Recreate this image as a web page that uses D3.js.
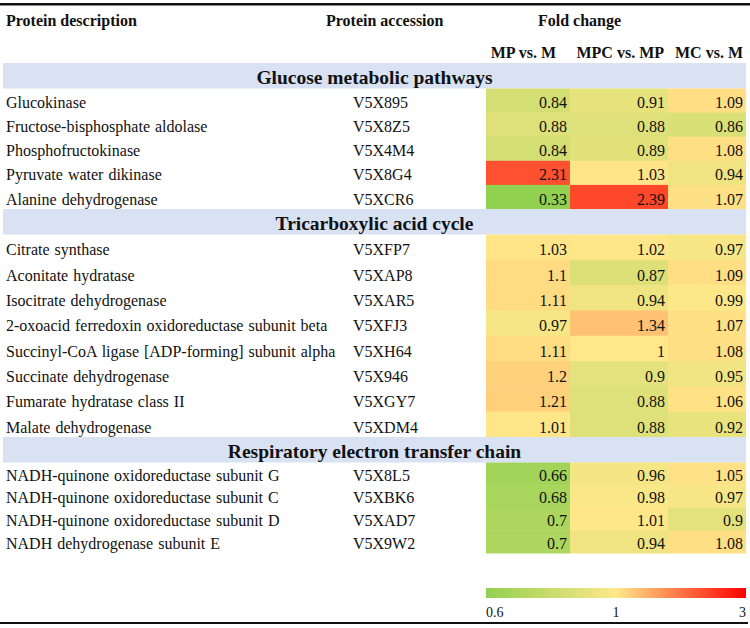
<!DOCTYPE html>
<html>
<head>
<meta charset="utf-8">
<script src="https://cdn.jsdelivr.net/npm/d3@7"></script>
<style>
  html, body { margin: 0; padding: 0; background: #fff; }
  svg { display: block; font-family: "Liberation Serif", "Times New Roman", serif; }
</style>
</head>
<body>
<svg id="chart" width="750" height="628"></svg>
<script>
// ---------------- data ----------------
const comparisons = ["MP vs. M", "MPC vs. MP", "MC vs. M"];
const sections = ["Glucose metabolic pathways", "Tricarboxylic acid cycle", "Respiratory electron transfer chain"];

const glucoseDesc = ["Glucokinase", "Fructose-bisphosphate aldolase", "Phosphofructokinase", "Pyruvate water dikinase", "Alanine dehydrogenase"];
const glucoseAcc = ["V5X895", "V5X8Z5", "V5X4M4", "V5X8G4", "V5XCR6"];
const glucoseMPvsM = ["0.84", "0.88", "0.84", "2.31", "0.33"];
const glucoseMPCvsMP = ["0.91", "0.88", "0.89", "1.03", "2.39"];
const glucoseMCvsM = ["1.09", "0.86", "1.08", "0.94", "1.07"];

const tcaDesc = ["Citrate synthase", "Aconitate hydratase", "Isocitrate dehydrogenase", "2-oxoacid ferredoxin oxidoreductase subunit beta", "Succinyl-CoA ligase [ADP-forming] subunit alpha", "Succinate dehydrogenase", "Fumarate hydratase class II", "Malate dehydrogenase"];
const tcaAcc = ["V5XFP7", "V5XAP8", "V5XAR5", "V5XFJ3", "V5XH64", "V5X946", "V5XGY7", "V5XDM4"];
const tcaMPvsM = ["1.03", "1.1", "1.11", "0.97", "1.11", "1.2", "1.21", "1.01"];
const tcaMPCvsMP = ["1.02", "0.87", "0.94", "1.34", "1", "0.9", "0.88", "0.88"];
const tcaMCvsM = ["0.97", "1.09", "0.99", "1.07", "1.08", "0.95", "1.06", "0.92"];

const respDesc = ["NADH-quinone oxidoreductase subunit G", "NADH-quinone oxidoreductase subunit C", "NADH-quinone oxidoreductase subunit D", "NADH dehydrogenase subunit E"];
const respAcc = ["V5X8L5", "V5XBK6", "V5XAD7", "V5X9W2"];
const respMPvsM = ["0.66", "0.68", "0.7", "0.7"];
const respMPCvsMP = ["0.96", "0.98", "1.01", "0.94"];
const respMCvsM = ["1.05", "0.97", "0.9", "1.08"];

const legendTicks = ["0.6", "1", "3"];

// ---------------- layout (not data) ----------------
const W = 750, H = 628;
const sectionTops = [63, 209, 437];
const groupEnds = [209, 437, 553];
const bandH = 25.5;
const colLefts = [486, 570, 668, 746];
const headerY = 26, subHeaderY = 58;
const legendY = 588, legendH = 10;
const accX = 353;

const groups = [
  { title: sections[0], desc: glucoseDesc, acc: glucoseAcc, vals: [glucoseMPvsM, glucoseMPCvsMP, glucoseMCvsM] },
  { title: sections[1], desc: tcaDesc, acc: tcaAcc, vals: [tcaMPvsM, tcaMPCvsMP, tcaMCvsM] },
  { title: sections[2], desc: respDesc, acc: respAcc, vals: [respMPvsM, respMPCvsMP, respMCvsM] }
];

const color = d3.scaleLinear()
  .domain(legendTicks.map(Number))
  .range(["#92d050", "#ffe88a", "#ff0000"])
  .interpolate(d3.interpolateRgb)
  .clamp(true);

const xLeft = d3.scaleOrdinal().domain(comparisons).range(colLefts.slice(0, 3));
const xRight = d3.scaleOrdinal().domain(comparisons).range(colLefts.slice(1, 4));

const svg = d3.select("#chart");
svg.append("rect").attr("width", W).attr("height", H).attr("fill", "#fff");

// top rule
svg.append("line").attr("x1", 0).attr("x2", W).attr("y1", 4.3).attr("y2", 4.3)
  .attr("stroke", "#111").attr("stroke-width", 2.6);

// headers
const hdr = svg.append("g").attr("font-weight", "bold").attr("font-size", 16).attr("fill", "#111");
hdr.append("text").attr("x", 6).attr("y", headerY).text("Protein description");
hdr.append("text").attr("x", 326).attr("y", headerY).text("Protein accession");
hdr.append("text").attr("x", 538).attr("y", headerY).text("Fold change");
const subOffsets = [14, 4, 3];
hdr.selectAll("text.sub").data(comparisons).join("text").attr("class", "sub")
  .attr("x", (d, i) => xRight(d) - subOffsets[i])
  .attr("y", subHeaderY)
  .attr("text-anchor", "end")
  .text(d => d);

// groups
groups.forEach((g, gi) => {
  const top = sectionTops[gi];
  const gg = svg.append("g");
  gg.append("rect").attr("x", 3).attr("y", top).attr("width", 743).attr("height", bandH)
    .attr("fill", "#d9e2f3");
  gg.append("text").attr("x", 374.5).attr("y", top + bandH - 5)
    .attr("text-anchor", "middle").attr("font-weight", "bold").attr("font-size", 19.5)
    .attr("fill", "#111").text(g.title);

  const y = d3.scaleBand().domain(g.desc).range([top + bandH, groupEnds[gi]]).padding(0);

  const rows = g.desc.map((d, i) => ({ desc: d, acc: g.acc[i], vals: comparisons.map((c, ci) => ({ comp: c, v: g.vals[ci][i] })) }));

  const row = gg.selectAll("g.row").data(rows).join("g").attr("class", "row");

  row.selectAll("rect.cell").data(r => r.vals.map(v => ({ ...v, desc: r.desc }))).join("rect")
    .attr("class", "cell")
    .attr("x", d => xLeft(d.comp))
    .attr("y", d => y(d.desc))
    .attr("width", d => xRight(d.comp) - xLeft(d.comp))
    .attr("height", y.bandwidth() + 0.5)
    .attr("fill", d => color(+d.v));

  row.selectAll("text.val").data(r => r.vals.map(v => ({ ...v, desc: r.desc }))).join("text")
    .attr("class", "val")
    .attr("x", d => xRight(d.comp) - 3)
    .attr("y", d => y(d.desc) + y.bandwidth() - 4.5)
    .attr("text-anchor", "end").attr("font-size", 16).attr("fill", "#111")
    .text(d => d.v);

  row.append("text")
    .attr("x", 6).attr("y", r => y(r.desc) + y.bandwidth() - 4.5)
    .attr("font-size", 16).attr("fill", "#111").attr("word-spacing", 1)
    .text(r => r.desc);
  row.append("text")
    .attr("x", accX).attr("y", r => y(r.desc) + y.bandwidth() - 4.5)
    .attr("font-size", 16).attr("fill", "#111")
    .text(r => r.acc);
});

// legend
const lx = d3.scaleLinear().domain(legendTicks.map(Number)).range([colLefts[0], (colLefts[0] + colLefts[3]) / 2, colLefts[3]]);
const defs = svg.append("defs");
const grad = defs.append("linearGradient").attr("id", "lg").attr("x1", "0%").attr("x2", "100%");
const stops = d3.range(0, 1.0001, 0.05).map(t => lx.invert(lx.range()[0] + t * (lx.range()[2] - lx.range()[0])));
grad.selectAll("stop").data(stops).join("stop")
  .attr("offset", (d, i) => (i / (stops.length - 1) * 100) + "%")
  .attr("stop-color", d => color(d));
svg.append("rect").attr("x", lx.range()[0]).attr("y", legendY)
  .attr("width", lx.range()[2] - lx.range()[0]).attr("height", legendH).attr("fill", "url(#lg)");
svg.selectAll("text.lt").data(legendTicks).join("text").attr("class", "lt")
  .attr("x", d => lx(+d))
  .attr("y", 617)
  .attr("text-anchor", (d, i) => i === 0 ? "start" : (i === legendTicks.length - 1 ? "end" : "middle"))
  .attr("font-size", 14).attr("fill", "#111")
  .text(d => d);

// bottom rule
svg.append("line").attr("x1", 0).attr("x2", 748).attr("y1", 623).attr("y2", 623)
  .attr("stroke", "#111").attr("stroke-width", 2);
</script>
</body>
</html>
